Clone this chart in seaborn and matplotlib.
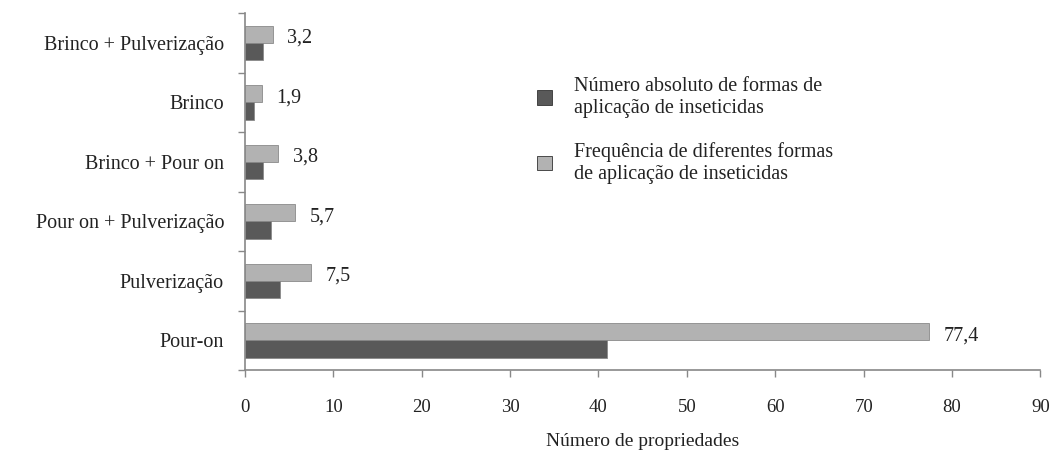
import matplotlib
matplotlib.use("Agg")
import matplotlib.pyplot as plt
import seaborn as sns
import pandas as pd
from matplotlib.ticker import FixedLocator

categorias = ["Brinco + Pulverização", "Brinco", "Brinco + Pour on",
              "Pour on + Pulverização", "Pulverização", "Pour-on"]
frequencia = [3.2, 1.9, 3.8, 5.7, 7.5, 77.4]
absoluto = [2, 1, 2, 3, 4, 41]

serie_abs = "Número absoluto de formas de\naplicação de inseticidas"
serie_freq = "Frequência de diferentes formas\nde aplicação de inseticidas"

df = pd.concat([
    pd.DataFrame({"forma": categorias, "valor": frequencia, "serie": serie_freq}),
    pd.DataFrame({"forma": categorias, "valor": absoluto, "serie": serie_abs}),
])

sns.set_theme(style="white")
plt.rcParams["font.family"] = ["Liberation Serif", "DejaVu Serif"]
plt.rcParams["text.color"] = "#222222"

fig = plt.figure(figsize=(10.51, 4.53), dpi=100)
ax = fig.add_axes([0.233, 0.183, 0.757, 0.788])

cores = {serie_freq: "#b2b2b2", serie_abs: "#595959"}
sns.barplot(data=df, x="valor", y="forma", hue="serie", order=categorias,
            hue_order=[serie_freq, serie_abs], palette=cores, width=0.58,
            edgecolor="#8a8a8a", linewidth=0.6, ax=ax, legend=True)

ax.set_xlim(0, 90)
ax.set_ylim(len(categorias) - 0.5, -0.5)
ax.set_xticks(range(0, 91, 10))
ax.tick_params(axis="x", labelsize=13.5, length=5, width=1, color="#888888",
               direction="out", bottom=True, pad=16, labelcolor="#222222")
ax.tick_params(axis="y", which="major", length=0, labelsize=14.5, pad=15,
               labelcolor="#222222")
ax.yaxis.set_minor_locator(FixedLocator([i - 0.5 for i in range(len(categorias) + 1)]))
ax.tick_params(axis="y", which="minor", length=5, width=1, color="#888888", left=True)

for s in ["top", "right"]:
    ax.spines[s].set_visible(False)
for s in ["left", "bottom"]:
    ax.spines[s].set_color("#888888")
    ax.spines[s].set_linewidth(1.2)

ax.set_ylabel("")
ax.set_xlabel("Número de propriedades", fontsize=14, labelpad=12, color="#222222")

# rótulos de frequência
for i, v in enumerate(frequencia):
    ax.text(v + 1.6, i - 0.08, f"{v:.1f}".replace(".", ","), fontsize=14.5,
            va="center", ha="left")

h, l = ax.get_legend_handles_labels()
ax.legend([h[1], h[0]], [l[1], l[0]], loc="upper left",
          bbox_to_anchor=(0.511, 0.83), bbox_transform=fig.transFigure,
          frameon=False, fontsize=14.5, handlelength=0.72, handleheight=0.72,
          labelspacing=1.2, handletextpad=1.1, borderaxespad=0, borderpad=0)
for p in ax.get_legend().get_patches():
    p.set_edgecolor("#333333")

fig.savefig("out.png", dpi=100)
plt.close(fig)
